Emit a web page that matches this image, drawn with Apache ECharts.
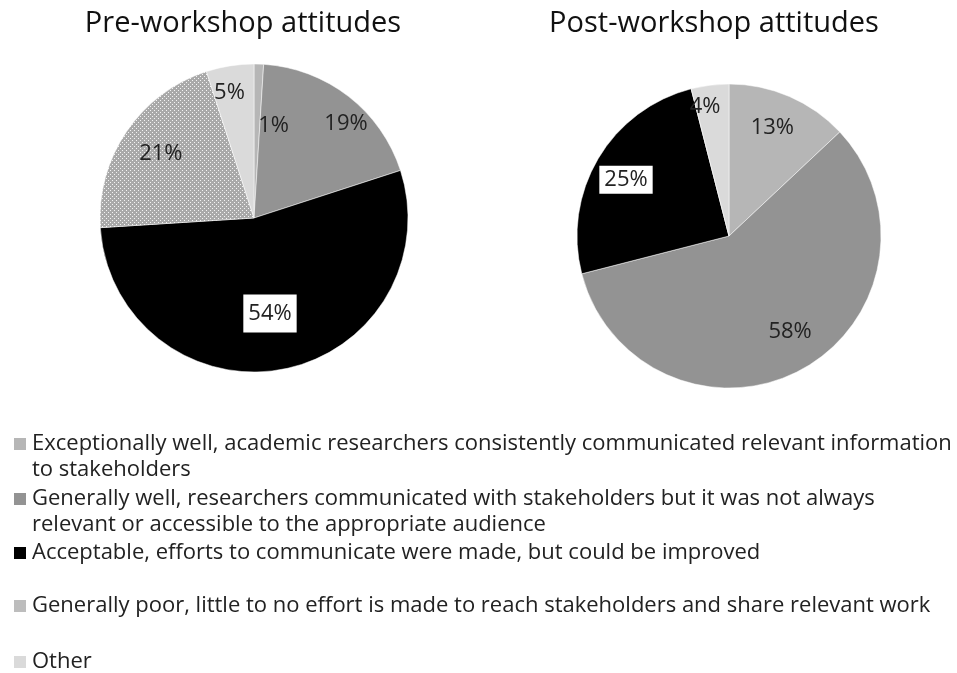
<!DOCTYPE html>
<html>
<head>
<meta charset="utf-8">
<script src="https://cdn.jsdelivr.net/npm/echarts@6/dist/echarts.min.js"></script>
<style>
  html, body { margin: 0; padding: 0; background: #fff; }
  #chart { width: 957px; height: 673px; }
</style>
</head>
<body>
<div id="chart"></div>
<script>
// Response categories (legend order, clockwise from 12 o'clock)
const categories = [
  'Exceptionally well, academic researchers consistently communicated relevant information\nto stakeholders',
  'Generally well, researchers communicated with stakeholders but it was not always\nrelevant or accessible to the appropriate audience',
  'Acceptable, efforts to communicate were made, but could be improved',
  'Generally poor, little to no effort is made to reach stakeholders and share relevant work',
  'Other'
];
// Share of respondents (%)
const preValues = [1, 19, 54, 21, 5];
const postValues = [13, 58, 25, 0, 4];
const chartTitles = ['Pre-workshop attitudes', 'Post-workshop attitudes'];

const FONT = '"Open Sans"';

// dotted fill used for "Generally poor"
function dotPattern() {
  const c = document.createElement('canvas');
  c.width = 4; c.height = 4;
  const g = c.getContext('2d');
  g.fillStyle = '#a9a9a9';
  g.fillRect(0, 0, 4, 4);
  g.fillStyle = '#f4f4f4';
  g.fillRect(0, 0, 1, 1);
  g.fillRect(2, 2, 1, 1);
  return c;
}
const dots = dotPattern();
const sliceColors = ['#b6b6b6', '#939393', '#000000', { image: dots, repeat: 'repeat' }, '#dadada'];
const legendIconColors = ['#b6b6b6', '#939393', '#000000', '#bdbdbd', '#dadada'];

// label nudges from the default inner position, per slice
const preLabelOffsets = [[17, -12], [43, -31], [1, 17], [-27, -19], [-12, -46]];
const postLabelOffsets = [[12, -36], [23, 27], [-35, -16], [0, 0], [-14, -51]];
// slice whose label sits in a boxed white tag
const boxedIndex = 2;

function buildData(values, offsets, boxPadding) {
  return values.map((v, i) => {
    const label = { offset: offsets[i] };
    if (v === 0) label.show = false;
    if (i === boxedIndex) {
      Object.assign(label, {
        backgroundColor: '#fff',
        borderColor: '#000',
        borderWidth: 1,
        padding: boxPadding
      });
    }
    return {
      name: categories[i],
      value: v,
      itemStyle: { color: sliceColors[i] },
      label
    };
  });
}

function pieSeries(values, offsets, boxPadding, center, radius) {
  return {
    type: 'pie',
    center,
    radius,
    startAngle: 90,
    clockwise: true,
    avoidLabelOverlap: false,
    silent: true,
    itemStyle: { borderColor: '#fff', borderWidth: 0.5 },
    label: {
      show: true,
      position: 'inside',
      formatter: '{c}%',
      color: '#222',
      fontFamily: FONT,
      fontSize: 22,
      lineHeight: 22
    },
    labelLine: { show: false },
    data: buildData(values, offsets, boxPadding)
  };
}

// icon centre of each legend entry (first text line sits level with it)
const legendIconY = [444, 499, 553, 606, 662];
const LH = 26;
const legends = categories.map((name, i) => {
  const twoLine = name.indexOf('\n') >= 0;
  return {
    orient: 'vertical',
    left: 12,
    top: legendIconY[i] - (twoLine ? 1.5 : 0.5) * LH,
    padding: 0,
    selectedMode: false,
    itemWidth: 14,
    itemHeight: 14,
    itemGap: 0,
    icon: 'rect',
    // a leading blank line keeps a wrapped entry's first line level with its icon
    formatter: n => (twoLine ? '\n' + n : n),
    data: [{ name, itemStyle: { color: legendIconColors[i] } }],
    textStyle: {
      fontFamily: FONT,
      fontSize: 22,
      color: '#222',
      lineHeight: LH
    }
  };
});

const titleStyle = { fontFamily: FONT, fontSize: 29, fontWeight: 'normal', color: '#111' };

const chart = echarts.init(document.getElementById('chart'), null, { renderer: 'canvas' });
chart.setOption({
  backgroundColor: '#fff',
  animation: false,
  title: [
    { text: chartTitles[0], left: 243, top: 9, padding: 0, textAlign: 'center', textStyle: titleStyle },
    { text: chartTitles[1], left: 714, top: 9, padding: 0, textAlign: 'center', textStyle: titleStyle }
  ],
  legend: legends,
  series: [
    pieSeries(preValues, preLabelOffsets, [9, 5, 7, 5], [254, 218], 154),
    pieSeries(postValues, postLabelOffsets, [4, 5, 2, 5], [729, 236], 152)
  ]
});
</script>
</body>
</html>
